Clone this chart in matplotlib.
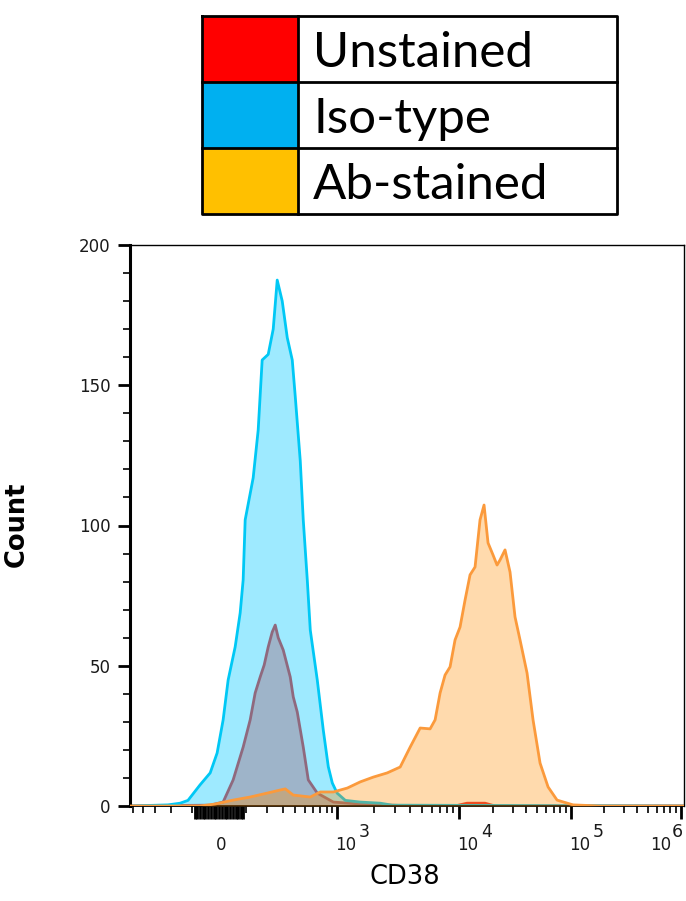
import numpy as np
import matplotlib
matplotlib.use("Agg")
import matplotlib.pyplot as plt
from matplotlib.patches import Rectangle
from matplotlib.lines import Line2D
from matplotlib.transforms import blended_transform_factory, offset_copy

# ---------------- data (CD38 intensity, count) ----------------
legend_labels = ["Unstained", "Iso-type", "Ab-stained"]
legend_colors = ["#FF0000", "#00B0F0", "#FFC000"]

unstained_x = [-537, -32, 14.3, 50.7, 89.3, 118.6, 141, 165, 185.6, 207.4,
               230.6, 249.2, 268.7, 303.6, 358.1, 383.9, 420.5, 481, 537.5,
               654, 923, 1553, 2734, 4806, 9269, 11780, 17060, 20950, 1.064e6]
unstained_y = [0, 0.3, 1.4, 9.3, 21, 30.7, 40.3, 46, 50.3, 56.7,
               62, 64.5, 60, 55.6, 46, 38.9, 33.5, 21, 9.3,
               4.6, 1.4, 0.7, 0.3, 0, 0, 1.0, 1.0, 0, 0]

iso_x = [-537, -219, -155, -119, -70, -32, -7.1, 14.3, 32.3, 58.2, 77.4,
         89.3, 97.5, 131.9, 155.2, 175, 207.4, 236.7, 262, 296.3, 333.9,
         375.2, 401.8, 450, 481, 525.8, 561.6, 654, 744.8, 829, 903, 1000,
         1170, 1553, 2266, 2839, 1.064e6]
iso_y = [0, 0.4, 1, 2, 7.5, 11.8, 18.9, 30.7, 44.9, 56.7, 68.8,
         80.6, 102, 117, 134, 159, 161, 170, 187.5, 180, 167,
         159, 146, 123, 102, 80.6, 62.7, 44.9, 27, 14, 8.2, 4.6,
         2, 1.4, 1, 0.3, 0]

ab_x = [-537, -70, -14.3, 50.7, 118.6, 201.8, 282.2, 318.5, 383.9, 561.6,
        698, 923, 1215, 1553, 1986, 2584, 3300, 3982, 4806, 5797, 6368,
        6996, 7682, 8439, 9269, 10203, 11305, 12530, 13890, 15385, 16710,
        18140, 20100, 21830, 23210, 25725, 28515, 31600, 35025, 40460,
        45770, 52870, 62330, 75000, 104240, 183530, 1.064e6]
ab_y = [0, 0, 0.7, 2.1, 3.2, 4.6, 5.7, 6.1, 3.9, 3.2,
        5.0, 5.0, 6.4, 8.6, 10.3, 11.8, 13.9, 21, 27.8, 27.5, 30.7,
        40.3, 46.7, 49.6, 59.2, 63.8, 73.4, 82.4, 85.2, 102, 107.3,
        93.8, 89.5, 85.9, 87.7, 91.3, 83.4, 67.4, 59.2, 47.4,
        30.7, 15.3, 6.8, 2.1, 0.4, 0, 0]

x_major = [0, 1e3, 1e4, 1e5, 1e6]
x_major_exp = [None, "3", "4", "5", "6"]
y_major = [0, 50, 100, 150, 200]

# ---------------- biexponential-like display scale ----------------
WID = 170.0
KX = np.array([0, 1e3, 1e4, 1e5, 1e6])
KU = np.arcsinh(KX / WID)
KP = np.array([0.0, 118.0, 240.0, 352.0, 462.0])
S0 = KP[1] / KU[1]
S1 = (KP[-1] - KP[-2]) / (KU[-1] - KU[-2])


def fwd(x):
    u = np.arcsinh(np.asarray(x, dtype=float) / WID)
    return np.where(u < 0, u * S0,
                    np.where(u > KU[-1], KP[-1] + (u - KU[-1]) * S1,
                             np.interp(u, KU, KP)))


def inv(p):
    p = np.asarray(p, dtype=float)
    u = np.where(p < 0, p / S0,
                 np.where(p > KP[-1], KU[-1] + (p - KP[-1]) / S1,
                          np.interp(p, KP, KU)))
    return WID * np.sinh(u)


# ---------------- figure ----------------
W, H = 686, 901
fig = plt.figure(figsize=(W / 100, H / 100), dpi=100)
ax = fig.add_axes([130 / W, (H - 806) / H, 554 / W, 561 / H])
ax.set_xscale("function", functions=(fwd, inv))
ax.set_xlim(-537, 1.064e6)
ax.set_ylim(0, 200)

# fills + lines (red under blue, orange on top)
ax.fill_between(unstained_x, unstained_y, color="#FF0000", alpha=0.34, lw=0, zorder=1)
ax.plot(unstained_x, unstained_y, color="#E83030", lw=2, zorder=1.5)
ax.fill_between(iso_x, iso_y, color="#00C8FF", alpha=0.38, lw=0, zorder=2)
ax.plot(iso_x, iso_y, color="#00C8F5", lw=2, zorder=2.5)
ax.fill_between(ab_x, ab_y, color="#FF8C00", alpha=0.32, lw=0, zorder=3)
ax.plot(ab_x, ab_y, color="#FB9A3C", lw=2, zorder=3.5)

# ticks
near0 = [s * k * 10 for s in (-1, 1) for k in range(1, 10)]
ax.set_xticks(x_major + near0)
ax.set_xticklabels([""] * (len(x_major) + len(near0)))
minor = [s * k * 100 for s in (-1, 1) for k in range(1, 10)]
for dec in (1e3, 1e4, 1e5):
    minor += [k * dec for k in range(2, 10)]
minor = [m for m in minor if -537 <= m <= 1.064e6]
ax.set_xticks(minor, minor=True)
ax.set_yticks(y_major)
ax.set_yticks(np.arange(0, 201, 10), minor=True)

ax.tick_params(axis="both", which="major", direction="out", length=9, width=2,
               color="black", labelsize=12, labelcolor="#1a1a1a")
ax.tick_params(axis="both", which="minor", direction="out", length=5, width=1.2,
               color="black")
ax.tick_params(axis="y", which="major", pad=5)

# x tick labels: "10" with full-size raised exponent, left-aligned at the tick
base = blended_transform_factory(ax.transData, ax.transAxes)
for xv, ex in zip(x_major, x_major_exp):
    last = xv == x_major[-1]
    if ex is None:
        ax.text(xv, 0, "0", fontsize=12, color="#1a1a1a", ha="left", va="baseline",
                transform=offset_copy(base, fig=fig, x=-3, y=-44, units="dots"))
        continue
    dx0, dx1 = (-31, -9) if last else (-2, 22)
    ax.text(xv, 0, "10", fontsize=12, color="#1a1a1a", ha="left", va="baseline",
            transform=offset_copy(base, fig=fig, x=dx0, y=-44, units="dots"))
    ax.text(xv, 0, ex, fontsize=12.5, color="#1a1a1a", ha="left", va="baseline",
            transform=offset_copy(base, fig=fig, x=dx1, y=-31, units="dots"))

for side, lw in (("left", 2.2), ("bottom", 1.3), ("top", 1.0), ("right", 1.0)):
    ax.spines[side].set_linewidth(lw)
    ax.spines[side].set_color("black")

fig.text(17 / W, 1 - 524 / H, "Count", rotation=90, ha="center", va="center",
         fontsize=18.5, fontweight="bold")
fig.text(405 / W, 1 - 877 / H, "CD38", ha="center", va="center", fontsize=18.5)

# ---------------- legend table ----------------
lx0, lx1, lxs = 202, 617, 298
rows = [(16, 82), (82, 148), (148, 214)]
for (t, b), lab, col in zip(rows, legend_labels, legend_colors):
    fig.patches.append(Rectangle((lx0 / W, 1 - b / H), (lxs - lx0) / W, (b - t) / H,
                                 transform=fig.transFigure, facecolor=col,
                                 edgecolor="none"))
    fig.text(313 / W, 1 - (b - 15) / H, lab, ha="left", va="baseline",
             fontsize=35.5, family="Lato", color="black")


def fline(xs, ys):
    fig.lines.append(Line2D([x / W for x in xs], [1 - y / H for y in ys],
                            transform=fig.transFigure, color="black", lw=2))


fline([lx0, lx1, lx1, lx0, lx0], [16, 16, 214, 214, 16])
fline([lx0, lx1], [82, 82])
fline([lx0, lx1], [148, 148])
fline([lxs, lxs], [16, 214])

fig.savefig("out.png", dpi=100)
